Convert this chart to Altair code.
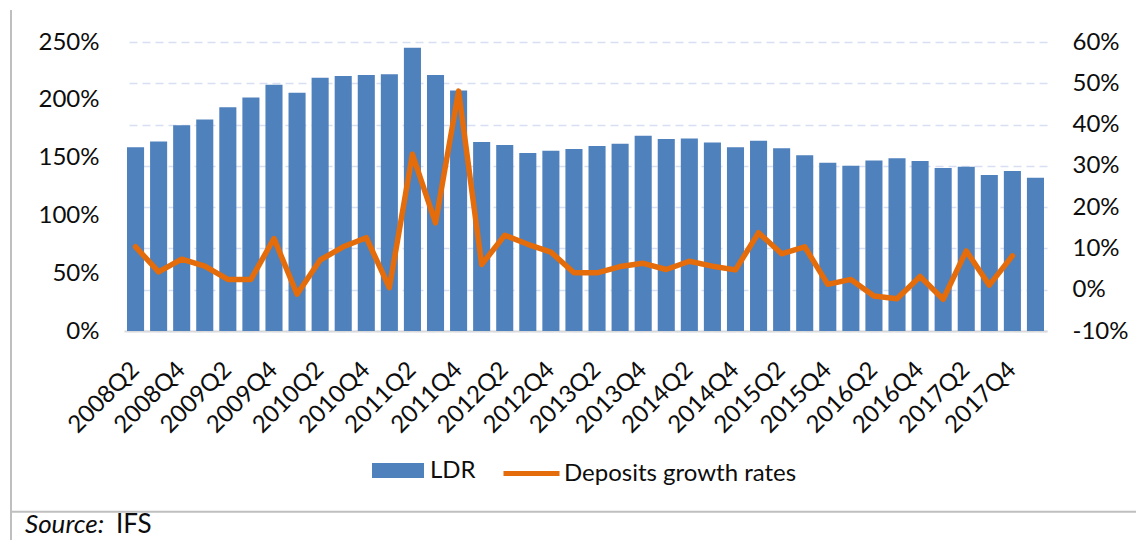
import altair as alt
import pandas as pd

quarters = [f"{y}Q{q}" for y in range(2008, 2019) for q in range(1, 5)][1:41]
tick_quarters = quarters[0:39:2]

ldr = [159, 164, 178, 183, 193.5, 202, 213, 206, 219, 220.5,
       221.5, 222, 245, 221.5, 208, 163.5, 161, 154, 156, 157.5,
       160, 162, 169, 166, 166.5, 163, 159, 164.5, 158, 152,
       145.5, 143, 147.5, 149.5, 147, 141, 142, 135, 138.5, 132.5]

dep = [10.4, 4.3, 7.4, 5.7, 2.5, 2.5, 12.4, -1.1, 7.2, 10.4,
       12.6, 0.5, 32.8, 16.2, 48.1, 6.1, 13.2, 11.0, 9.1, 4.1,
       4.1, 5.6, 6.4, 4.9, 6.9, 5.7, 4.8, 13.8, 8.7, 10.4,
       1.3, 2.5, -1.5, -2.2, 3.2, -2.3, 9.4, 1.1, 8.2, None]

left_ticks = [0, 50, 100, 150, 200, 250]
right_ticks = [-10, 0, 10, 20, 30, 40, 50, 60]

df = pd.DataFrame({"quarter": quarters, "LDR": ldr, "DEP": dep})

FONT = "Lato"
TXT = "#0d0d0d"
BLUE = "#4f81bd"
ORANGE = "#e46c0a"

x_enc = alt.X(
    "quarter:N", sort=quarters,
    scale=alt.Scale(paddingInner=0.26, paddingOuter=0.13),
    axis=alt.Axis(values=tick_quarters, labelAngle=-45, labelAlign="right",
                  labelBaseline="middle", labelPadding=35, labelFontSize=24,
                  labelColor=TXT, ticks=False, domainColor="#d9d9d9",
                  domainWidth=2, grid=False, title=None, labelOverlap=False),
)

bars = alt.Chart(df).transform_calculate(series='"LDR"').mark_bar().encode(
    x=x_enc,
    y=alt.Y("LDR:Q",
            scale=alt.Scale(domain=[0, 250], nice=False, zero=True),
            axis=alt.Axis(orient="left", values=left_ticks,
                          labelExpr="datum.value + '%'", grid=False,
                          domain=False, ticks=False, labelPadding=25,
                          labelFontSize=24, labelColor=TXT, title=None)),
    color=alt.Color("series:N",
                    scale=alt.Scale(domain=["LDR"], range=[BLUE]),
                    legend=alt.Legend(orient="none", legendX=248, legendY=402.5,
                                      symbolType="M-1,-0.29H1V0.29H-1Z",
                                      symbolSize=2704, symbolStrokeWidth=0,
                                      labelFontSize=24, labelColor=TXT,
                                      labelOffset=6, labelLimit=0,
                                      title=None, padding=0)),
)

line = alt.Chart(df).transform_filter("datum.DEP != null").transform_calculate(
    series2='"Deposits growth rates"'
).mark_line(strokeWidth=5.5, strokeJoin="round", strokeCap="round").encode(
    x=x_enc,
    y=alt.Y("DEP:Q",
            scale=alt.Scale(domain=[-10, 60], nice=False, zero=False),
            axis=alt.Axis(orient="right", values=right_ticks,
                          labelExpr="datum.value + '%'", grid=True,
                          gridColor="#d6e0f2", gridDash=[8, 5], gridWidth=1.5,
                          domain=False, ticks=False, labelPadding=25,
                          labelFontSize=24, labelColor=TXT, title=None)),
    stroke=alt.Stroke("series2:N",
                      scale=alt.Scale(domain=["Deposits growth rates"], range=[ORANGE]),
                      legend=alt.Legend(orient="none", legendX=377, legendY=401,
                                        symbolType="stroke", symbolSize=3136,
                                        symbolStrokeWidth=5, labelFontSize=24,
                                        labelColor=TXT, labelOffset=2,
                                        labelLimit=0, title=None, padding=0)),
)

one = pd.DataFrame({"k": [0]})
bottom_rule = alt.Chart(one).mark_rule(color="#bfbfbf", strokeWidth=2).encode(
    x=alt.value(-113), x2=alt.value(1020), y=alt.value(469.7))
left_rule = alt.Chart(one).mark_rule(color="#bfbfbf", strokeWidth=2).encode(
    x=alt.value(-113), y=alt.value(-32), y2=alt.value(510))
src1 = alt.Chart(one).mark_text(align="left", baseline="alphabetic", fontSize=26,
                                fontStyle="italic", color=TXT, font=FONT).encode(
    x=alt.value(-99), y=alt.value(491), text=alt.value("Source:"))
src2 = alt.Chart(one).mark_text(align="left", baseline="alphabetic", fontSize=26,
                                color=TXT, font=FONT).encode(
    x=alt.value(-8), y=alt.value(491), text=alt.value("IFS"))

chart = alt.layer(bars, line, bottom_rule, left_rule, src1, src2).resolve_scale(
    y="independent"
).properties(
    width=923, height=289,
    autosize=alt.AutoSizeParams(type="none"),
    padding={"left": 116, "top": 34, "right": 89, "bottom": 215},
).configure(font=FONT).configure_view(stroke=None)

chart.save("out.html", embed_options={"renderer": "svg", "actions": False})
